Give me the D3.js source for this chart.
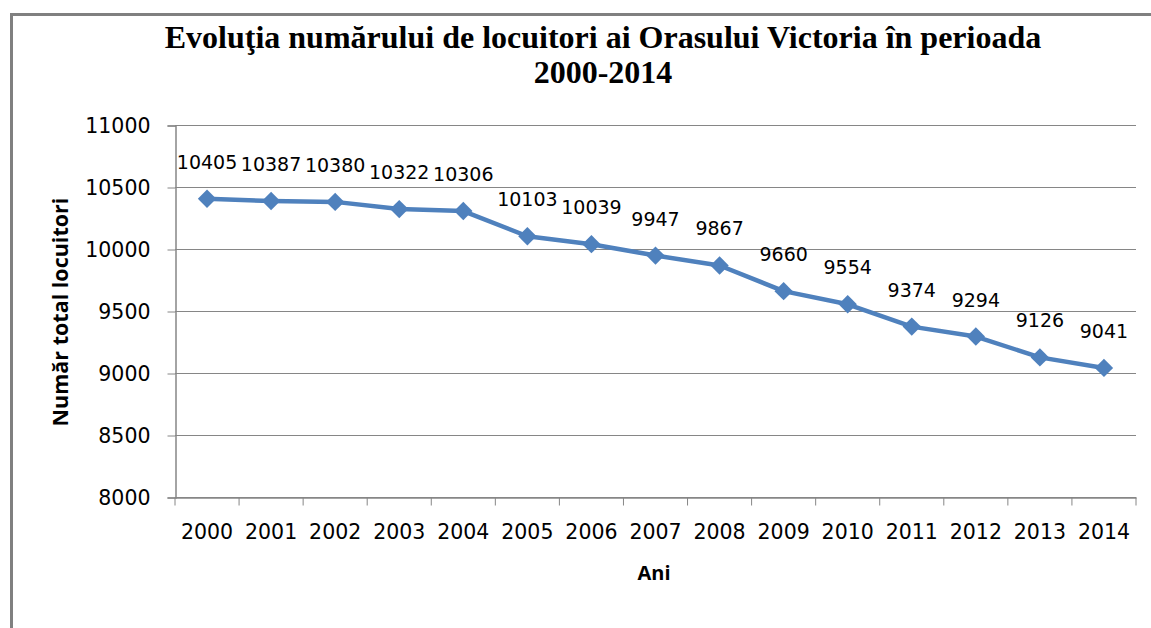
<!DOCTYPE html>
<html>
<head>
<meta charset="utf-8">
<script src="https://cdn.jsdelivr.net/npm/d3@7"></script>
<style>
  body { margin: 0; background: #fff; }
</style>
</head>
<body>
<div id="container"></div>
<script>
var svgWidth = 1151;
var svgHeight = 628;

// data
var years = ['2000', '2001', '2002', '2003', '2004', '2005', '2006', '2007',
             '2008', '2009', '2010', '2011', '2012', '2013', '2014'];
var locuitori = [10405, 10387, 10380, 10322, 10306, 10103, 10039, 9947,
                 9867, 9660, 9554, 9374, 9294, 9126, 9041];
var yTicks = [8000, 8500, 9000, 9500, 10000, 10500, 11000];

var titleLines = ['Evoluţia numărului de locuitori ai Orasului Victoria în perioada', '2000-2014'];

var margin = {left: 175, right: 1136, top: 125, bottom: 497};
var blue = '#4F81BD';
var grey = '#868686';

var svg = d3.select('#container').append('svg')
    .attr('width', svgWidth)
    .attr('height', svgHeight);

// chart frame (only top and left edges are inside the picture)
svg.append('path')
    .attr('d', 'M11.5,' + svgHeight + 'V14.5H' + svgWidth)
    .style('fill', 'none')
    .style('stroke', '#808080')
    .style('stroke-width', 3);

var x = d3.scaleBand()
    .domain(years)
    .range([margin.left, margin.right]);

var y = d3.scaleLinear()
    .domain([8000, 11000])
    .range([margin.bottom, margin.top]);

// title
svg.append('text')
    .attr('x', 603)
    .attr('y', 48)
    .attr('text-anchor', 'middle')
    .style('font-family', 'Liberation Serif')
    .style('font-weight', 'bold')
    .style('font-size', '32px')
    .selectAll('tspan')
    .data(titleLines)
    .enter().append('tspan')
        .attr('x', 603)
        .attr('dy', function (d, i) { return i === 0 ? 0 : 35; })
        .text(function (d) { return d; });

// horizontal gridlines
svg.append('g')
    .selectAll('line')
    .data(yTicks)
    .enter().append('line')
        .attr('x1', margin.left)
        .attr('x2', margin.right)
        .attr('y1', function (d) { return Math.round(y(d)) + 0.5; })
        .attr('y2', function (d) { return Math.round(y(d)) + 0.5; })
        .style('stroke', grey)
        .style('stroke-width', 1);

// y axis
var yAxis = svg.append('g')
    .attr('transform', 'translate(' + (margin.left + 0.5) + ',0.5)')
    .call(d3.axisLeft(y).tickValues(yTicks).tickSize(8).tickPadding(17).tickFormat(d3.format('d')));

// x axis
var xAxis = svg.append('g')
    .attr('transform', 'translate(0,' + (margin.bottom + 0.5) + ')')
    .call(d3.axisBottom(x).tickSize(0).tickPadding(27));

xAxis.selectAll('.tick').append('line')
    .attr('x1', -x.bandwidth() / 2)
    .attr('x2', -x.bandwidth() / 2)
    .attr('y2', 8)
    .style('stroke', grey);
xAxis.append('line')
    .attr('x1', margin.right)
    .attr('x2', margin.right)
    .attr('y2', 8)
    .style('stroke', grey);

[yAxis, xAxis].forEach(function (ax) {
    ax.select('.domain').style('stroke', grey).style('stroke-width', 1.5);
    ax.selectAll('.tick line').style('stroke', grey);
    ax.selectAll('text')
        .style('font-family', 'DejaVu Sans')
        .style('font-size', '20.5px')
        .style('fill', '#000');
});
yAxis.selectAll('text').attr('dy', '0.36em');

// axis titles
svg.append('text')
    .attr('transform', 'translate(68,312) rotate(-90)')
    .attr('text-anchor', 'middle')
    .style('font-family', 'Open Sans')
    .style('font-weight', 'bold')
    .style('font-size', '21.5px')
    .text('Număr total locuitori');

svg.append('text')
    .attr('x', 654)
    .attr('y', 580)
    .attr('text-anchor', 'middle')
    .style('font-family', 'Open Sans')
    .style('font-weight', 'bold')
    .style('font-size', '20px')
    .text('Ani');

// line series
var cx = function (d, i) { return x(years[i]) + x.bandwidth() / 2; };

var line = d3.line()
    .x(cx)
    .y(function (d) { return y(d); });

svg.append('path')
    .datum(locuitori)
    .attr('d', line)
    .style('fill', 'none')
    .style('stroke', blue)
    .style('stroke-width', 4.5)
    .style('stroke-linejoin', 'round');

var diamond = d3.symbol().type(d3.symbolDiamond2).size(215);

svg.append('g')
    .selectAll('path')
    .data(locuitori)
    .enter().append('path')
        .attr('d', diamond)
        .attr('transform', function (d, i) { return 'translate(' + cx(d, i) + ',' + y(d) + ')'; })
        .style('fill', blue);

// data labels
svg.append('g')
    .selectAll('text')
    .data(locuitori)
    .enter().append('text')
        .attr('x', cx)
        .attr('y', function (d) { return y(d) - 30; })
        .attr('text-anchor', 'middle')
        .style('font-family', 'DejaVu Sans')
        .style('font-size', '19px')
        .text(function (d) { return d; });
</script>
</body>
</html>
